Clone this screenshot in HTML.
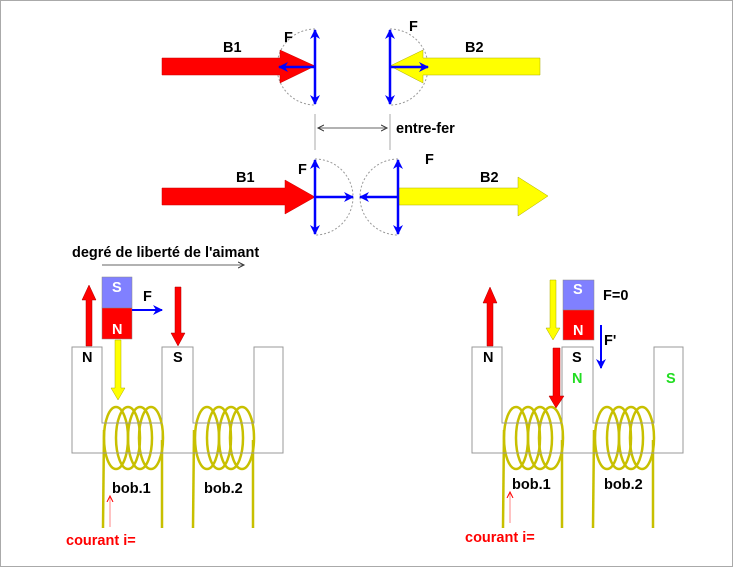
<!DOCTYPE html>
<html><head><meta charset="utf-8"><style>
html,body{margin:0;padding:0;background:#fff}
svg{display:block}
text{font-family:"Liberation Sans",Arial,sans-serif;font-weight:bold;font-size:14.5px}
</style></head><body>
<svg width="733" height="567" viewBox="0 0 733 567" xmlns="http://www.w3.org/2000/svg">
<defs>
<marker id="bh" markerWidth="12" markerHeight="12" refX="9" refY="5" orient="auto" markerUnits="userSpaceOnUse"><path d="M0,0 L10,5 L0,10 L3,5 Z" fill="#0000ff"/></marker>
<marker id="gh" markerWidth="8" markerHeight="8" refX="6" refY="4" orient="auto" markerUnits="userSpaceOnUse"><path d="M0,1 L6,4 L0,7" fill="none" stroke="#333" stroke-width="1"/></marker>
<marker id="rh" markerWidth="8" markerHeight="8" refX="6" refY="4" orient="auto" markerUnits="userSpaceOnUse"><path d="M0,1 L6,4 L0,7" fill="none" stroke="#f00" stroke-width="1"/></marker>
</defs>
<rect x="0.5" y="0.5" width="732" height="566" fill="#fff" stroke="#aaa"/>

<!-- top row -->
<path d="M315,29 A38,38 0 0 0 315,105" fill="none" stroke="#999" stroke-dasharray="2,2"/>
<path d="M390,29 A38,38 0 0 1 390,105" fill="none" stroke="#999" stroke-dasharray="2,2"/>
<path d="M162,58 L280,58 L280,50 L315,66 L280,83 L280,75 L162,75 Z" fill="#f00" stroke="#c00" stroke-width="0.5"/>
<path d="M540,58 L423,58 L423,50 L390,66 L423,83 L423,75 L540,75 Z" fill="#ff0" stroke="#aa0" stroke-width="0.5"/>
<g stroke="#0000ff" stroke-width="2.5" fill="none">
<line x1="315" y1="67" x2="315" y2="30" marker-end="url(#bh)"/>
<line x1="315" y1="67" x2="315" y2="104" marker-end="url(#bh)"/>
<line x1="315" y1="67" x2="279" y2="67" marker-end="url(#bh)"/>
<line x1="390" y1="67" x2="390" y2="30" marker-end="url(#bh)"/>
<line x1="390" y1="67" x2="390" y2="104" marker-end="url(#bh)"/>
<line x1="390" y1="67" x2="428" y2="67" marker-end="url(#bh)"/>
</g>
<text x="223" y="52">B1</text><text x="284" y="42">F</text>
<text x="409" y="31">F</text><text x="465" y="52">B2</text>

<line x1="315" y1="114" x2="315" y2="150" stroke="#aaa"/>
<line x1="390" y1="114" x2="390" y2="150" stroke="#aaa"/>
<line x1="319" y1="128" x2="387" y2="128" stroke="#666" marker-end="url(#gh)"/>
<line x1="386" y1="128" x2="318" y2="128" stroke="#666" marker-end="url(#gh)"/>
<text x="396" y="133">entre-fer</text>

<!-- second row -->
<path d="M315,159 A38,38 0 0 1 315,235" fill="none" stroke="#999" stroke-dasharray="2,2"/>
<path d="M398,159 A38,38 0 0 0 398,235" fill="none" stroke="#999" stroke-dasharray="2,2"/>
<path d="M162,188 L285,188 L285,180 L315,197 L285,214 L285,205 L162,205 Z" fill="#f00" stroke="#c00" stroke-width="0.5"/>
<path d="M398,188 L518,188 L518,177 L548,196 L518,216 L518,205 L398,205 Z" fill="#ff0" stroke="#aa0" stroke-width="0.5"/>
<g stroke="#0000ff" stroke-width="2.5" fill="none">
<line x1="315" y1="197" x2="315" y2="160" marker-end="url(#bh)"/>
<line x1="315" y1="197" x2="315" y2="234" marker-end="url(#bh)"/>
<line x1="315" y1="197" x2="353" y2="197" marker-end="url(#bh)"/>
<line x1="398" y1="197" x2="398" y2="160" marker-end="url(#bh)"/>
<line x1="398" y1="197" x2="398" y2="234" marker-end="url(#bh)"/>
<line x1="398" y1="197" x2="360" y2="197" marker-end="url(#bh)"/>
</g>
<text x="236" y="182">B1</text><text x="298" y="174">F</text>
<text x="425" y="164">F</text><text x="480" y="182">B2</text>

<text x="72" y="257">degré de liberté de l'aimant</text>
<line x1="102" y1="265" x2="244" y2="265" stroke="#333" stroke-width="0.8" marker-end="url(#gh)"/>

<!-- left setup -->
<g id="core">
<path d="M72,347 L102,347 L102,423 L162,423 L162,347 L193,347 L193,423 L254,423 L254,347 L283,347 L283,453 L72,453 Z" fill="#fff" stroke="#999"/>
<line x1="162" y1="423" x2="162" y2="453" stroke="#999"/>
<g fill="none" stroke="#c8c000" stroke-width="2.5">
<ellipse cx="116" cy="438" rx="12" ry="31"/>
<ellipse cx="128" cy="438" rx="12" ry="31"/>
<ellipse cx="140" cy="438" rx="12" ry="31"/>
<ellipse cx="151" cy="438" rx="12" ry="31"/>
<path d="M104,430 L103,528"/><path d="M162,440 L162,528"/>
<ellipse cx="207" cy="438" rx="12" ry="31"/>
<ellipse cx="219" cy="438" rx="12" ry="31"/>
<ellipse cx="231" cy="438" rx="12" ry="31"/>
<ellipse cx="242" cy="438" rx="12" ry="31"/>
<path d="M194,430 L193,528"/><path d="M253,440 L253,528"/>
</g>
<line x1="102" y1="423" x2="162" y2="423" stroke="#999"/>
<line x1="193" y1="423" x2="254" y2="423" stroke="#999"/>
<line x1="72" y1="453" x2="283" y2="453" stroke="#999"/>
</g>
<text x="112" y="493">bob.1</text><text x="204" y="493">bob.2</text>
<text x="66" y="545" fill="#f00">courant i=</text>
<line x1="110" y1="527" x2="110" y2="496" stroke="#f66" stroke-width="0.8" marker-end="url(#rh)"/>

<rect x="102" y="277" width="30" height="31" fill="#8080ff" stroke="#888" stroke-width="0.5"/>
<rect x="102" y="308" width="30" height="31" fill="#f00" stroke="#888" stroke-width="0.5"/>
<text x="112" y="292" fill="#fff">S</text><text x="112" y="334" fill="#fff">N</text>
<line x1="132" y1="310" x2="162" y2="310" stroke="#00f" stroke-width="2" marker-end="url(#bh)"/>
<text x="143" y="301">F</text>
<path d="M86,346 L86,300 L82,300 L89,285 L96,300 L92,300 L92,346 Z" fill="#f00" stroke="#a00" stroke-width="0.5"/>
<path d="M175,287 L181,287 L181,333 L185,333 L178,346 L171,333 L175,333 Z" fill="#f00" stroke="#a00" stroke-width="0.5"/>
<path d="M115,340 L121,340 L121,388 L125,388 L118,400 L111,388 L115,388 Z" fill="#ff0" stroke="#aa0" stroke-width="0.5"/>
<text x="82" y="362">N</text><text x="173" y="362">S</text>

<!-- right setup -->
<use href="#core" x="400"/>
<text x="512" y="489">bob.1</text><text x="604" y="489">bob.2</text>
<text x="465" y="542" fill="#f00">courant i=</text>
<line x1="510" y1="523" x2="510" y2="492" stroke="#f66" stroke-width="0.8" marker-end="url(#rh)"/>

<rect x="563" y="280" width="31" height="30" fill="#8080ff" stroke="#888" stroke-width="0.5"/>
<rect x="563" y="310" width="31" height="30" fill="#f00" stroke="#888" stroke-width="0.5"/>
<text x="573" y="294" fill="#fff">S</text><text x="573" y="335" fill="#fff">N</text>
<text x="603" y="300">F=0</text>
<line x1="601" y1="325" x2="601" y2="368" stroke="#00f" stroke-width="2" marker-end="url(#bh)"/>
<text x="604" y="345">F'</text>
<path d="M487,346 L487,303 L483,303 L490,287 L497,303 L493,303 L493,346 Z" fill="#f00" stroke="#a00" stroke-width="0.5"/>
<path d="M550,280 L556,280 L556,328 L560,328 L553,340 L546,328 L550,328 Z" fill="#ff0" stroke="#aa0" stroke-width="0.5"/>
<path d="M553,348 L560,348 L560,396 L564,396 L556,408 L549,396 L553,396 Z" fill="#f00" stroke="#a00" stroke-width="0.5"/>
<text x="483" y="362">N</text><text x="572" y="362">S</text>
<text x="572" y="383" fill="#22dd22">N</text><text x="666" y="383" fill="#22dd22">S</text>
</svg>
</body></html>
